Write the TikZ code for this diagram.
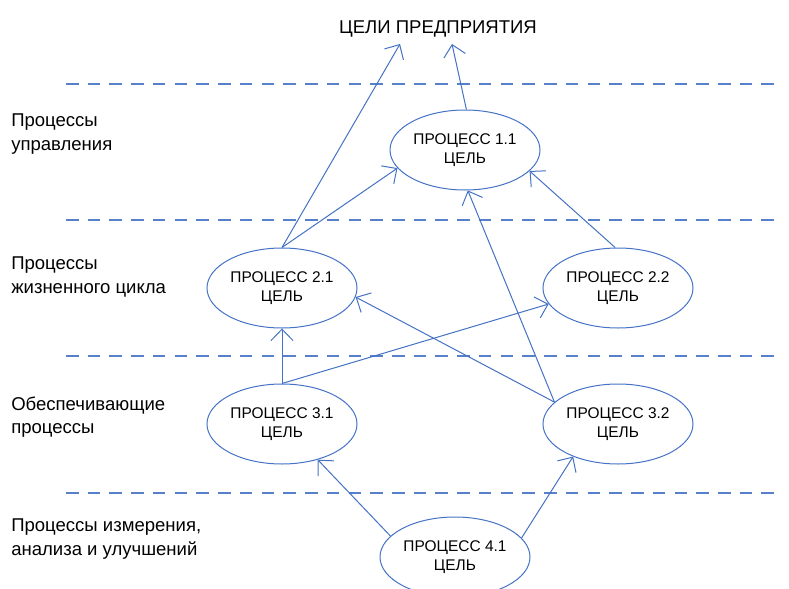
\documentclass[tikz,border=0pt]{standalone}
\usepackage{fontspec}
\setmainfont{Liberation Sans}
\usetikzlibrary{shapes.geometric,arrows.meta}
\definecolor{lineblue}{HTML}{4472C4}
\tikzset{
  proc/.style={ellipse, draw=lineblue, line width=0.75pt, minimum width=112.5pt, minimum height=60pt, inner sep=0pt, align=center, font=\fontsize{11.6}{14.6}\selectfont},
  lvl/.style={anchor=west, align=left, inner sep=0pt, font=\fontsize{13.9}{17.6}\selectfont},
  sep/.style={draw=lineblue!90, line width=1pt, dash pattern=on 9.4pt off 6.9pt},
  link/.style={draw=lineblue, line width=0.75pt, -{Straight Barb[length=8.5pt,width=16.5pt]}}
}
\begin{document}
\begin{tikzpicture}[x=0.75pt,y=-0.75pt]
\useasboundingbox (0,0) rectangle (789,589);
% title
\node[inner sep=0pt, font=\fontsize{13.9}{17.6}\selectfont] (title) at (438,29) {ЦЕЛИ ПРЕДПРИЯТИЯ};
\coordinate (tA) at (400,44);
\coordinate (tB) at (452,44);
% separators
\coordinate (s1a) at (66,84);  \coordinate (s1b) at (783,84);
\coordinate (s2a) at (66,220); \coordinate (s2b) at (783,220);
\coordinate (s3a) at (66,356); \coordinate (s3b) at (783,356);
\coordinate (s4a) at (66,493); \coordinate (s4b) at (783,493);
\draw[sep] (s1a) -- (s1b);
\draw[sep] (s2a) -- (s2b);
\draw[sep] (s3a) -- (s3b);
\draw[sep] (s4a) -- (s4b);
% level labels
\node[lvl] (l1) at (11,134) {Процессы\\управления};
\node[lvl] (l2) at (11,277) {Процессы\\жизненного цикла};
\node[lvl] (l3) at (11,417) {Обеспечивающие\\процессы};
\node[lvl] (l4) at (11,539) {Процессы измерения,\\анализа и улучшений};
% processes
\node[proc] (p11) at (465,150) {ПРОЦЕСС 1.1\\ЦЕЛЬ};
\node[proc] (p21) at (282,288) {ПРОЦЕСС 2.1\\ЦЕЛЬ};
\node[proc] (p22) at (618,288) {ПРОЦЕСС 2.2\\ЦЕЛЬ};
\node[proc] (p31) at (282,424) {ПРОЦЕСС 3.1\\ЦЕЛЬ};
\node[proc] (p32) at (618,424) {ПРОЦЕСС 3.2\\ЦЕЛЬ};
\node[proc] (p41) at (455,557) {ПРОЦЕСС 4.1\\ЦЕЛЬ};
% connectors
\draw[link] (p21.90) -- (tA);
\draw[link] (p11.88) -- (tB);
\draw[link] (p21.90) -- (p11.195);
\draw[link] (p22.94) -- (p11.342);
\draw[link] (p32.161) -- (p11.274);
\draw[link] (p32.161) -- (p21.353);
\draw[link] (p31.90) -- (p21.270);
\draw[link] (p31.90) -- (p22.193);
\draw[link] (p41.162) -- (p31.315);
\draw[link] (p41.16) -- (p32.216);
\end{tikzpicture}
\end{document}
